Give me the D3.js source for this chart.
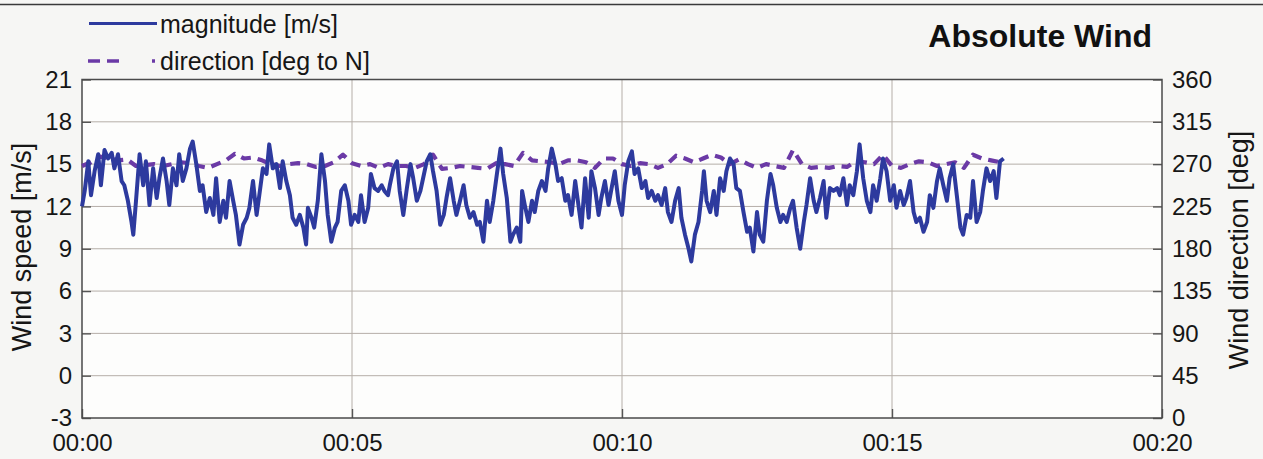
<!DOCTYPE html>
<html>
<head>
<meta charset="utf-8">
<script src="https://cdn.jsdelivr.net/npm/d3@7"></script>
<style>
  html, body { margin: 0; padding: 0; background: #f6f6f4; }
  svg { display: block; font-family: "Liberation Sans", Arial, sans-serif; }
</style>
</head>
<body>
<svg id="chart" width="1263" height="459"></svg>
<script>
// ---- data (time in seconds, speed in m/s, direction in deg) ----
const magnitude = [
[0,12.0],[3,13.1],[7,15.2],[10,12.8],[14,14.5],[18,15.7],[21,13.5],[25,16.0],[29,15.4],[33,15.8],
[36,14.7],[40,15.7],[44,13.8],[47,13.5],[51,12.4],[55,10.9],[57,10.0],[60,12.4],[64,15.7],[68,13.5],
[71,15.2],[75,12.1],[79,14.7],[83,12.6],[86,14.0],[90,15.4],[94,13.8],[97,12.1],[101,14.7],[105,13.5],
[108,15.7],[112,13.8],[116,14.7],[120,16.1],[123,16.6],[127,15.0],[131,13.1],[134,13.5],[138,11.6],[142,12.6],
[146,11.4],[149,14.0],[153,10.9],[157,12.4],[160,11.2],[164,13.8],[168,12.4],[171,11.4],[175,9.3],[179,10.7],
[183,11.2],[186,11.9],[190,13.8],[194,11.4],[197,12.8],[201,14.7],[205,14.3],[208,16.4],[212,14.7],[216,15.0],
[220,13.3],[223,15.2],[227,13.8],[231,12.8],[234,11.2],[238,10.7],[242,11.4],[246,10.5],[249,9.3],[251,11.9],
[255,11.2],[258,10.5],[262,12.4],[266,15.7],[270,13.8],[273,11.4],[277,9.5],[281,10.5],[284,10.9],[288,13.1],
[292,13.5],[296,12.4],[299,10.7],[303,11.4],[307,10.9],[310,12.8],[314,10.9],[318,11.9],[321,14.3],[325,13.3],
[329,13.1],[333,13.5],[336,13.1],[340,12.8],
[342,13.5],[346,14.7],[350,15.2],[353,13.1],[357,11.4],[361,13.3],[365,15.0],[368,14.0],[372,12.4],[376,13.1],
[379,14.0],[383,15.2],[387,15.7],[390,14.5],[394,13.1],[398,10.7],[402,11.4],[405,12.6],[409,14.0],[413,12.4],
[416,11.4],[420,12.4],[424,13.5],[427,12.1],[431,11.2],[435,11.6],[439,10.7],[442,10.9],[446,9.5],[450,12.4],
[453,10.9],[457,12.4],[461,14.3],[465,16.1],[468,14.3],[472,12.6],[476,9.5],[479,10.0],[483,10.5],[487,9.5],
[489,13.1],[492,12.1],[496,10.9],[500,12.4],[503,11.6],[507,13.1],[511,13.8],[515,13.1],[518,14.7],[522,16.1],
[526,15.0],[529,13.8],[533,14.0],[537,12.4],[540,12.8],[544,11.4],[548,13.8],[552,11.9],[555,10.5],[559,14.0],
[563,11.2],[566,14.5],[570,13.3],[574,11.4],[577,12.6],[581,13.8],[585,12.1],[589,13.5],[592,14.5],[596,12.4],
[600,11.4],[603,13.5],[607,15.2],[611,15.9],[614,14.3],[618,14.7],[622,13.3],[626,13.8],[629,12.6],[633,13.1],
[637,12.4],[640,12.8],[644,12.1],[648,13.3],[651,11.6],[655,10.9],[659,12.4],[663,13.3],[666,11.2],[670,10.0],
[674,9.0],[677,8.1],
[681,10.0],[685,10.9],[689,13.1],[691,14.5],[694,12.4],[698,11.6],[702,13.1],[705,11.4],[709,14.0],[713,13.1],
[716,14.5],[720,15.4],[724,15.0],[727,13.3],[731,13.1],[735,11.6],[739,10.2],[742,10.5],[746,8.8],[750,11.6],
[753,10.0],[757,9.5],[761,12.4],[765,14.3],[768,13.5],[772,11.9],[776,10.9],[779,11.4],[783,10.9],[787,11.9],
[790,12.4],[794,10.5],[798,9.0],[802,10.9],[805,12.1],[809,14.0],[813,12.4],[816,11.6],[820,12.6],[824,13.8],
[827,11.2],[831,13.3],[835,13.1],[839,13.3],[842,12.8],[846,14.0],[850,12.1],[853,13.5],[857,12.8],[861,14.5],
[864,16.4],[868,14.0],[872,12.4],[876,11.6],[879,13.5],[883,12.4],[887,14.0],[890,15.4],[894,14.5],[898,12.4],
[902,13.5],[905,11.9],[909,13.1],[913,12.1],[916,12.6],[920,13.8],[924,11.6],[927,10.9],[931,11.2],[935,10.2],
[939,10.9],[942,12.8],[946,11.9],[950,13.8],[953,14.7],[957,13.5],[961,12.4],[964,14.0],[968,15.0],[972,12.8],
[976,10.5],[979,10.0],[983,11.4],[987,11.2],[990,13.8],[994,10.9],[998,11.6],[1001,13.1],[1005,14.7],[1009,13.8],
[1013,14.5],[1016,12.6],[1020,15.2],[1024,15.4]
];

const direction = [
[0,268],[10,272],[20,278],[30,276],[40,274],[50,275],[60,268],[70,269],[80,270],[90,268],
[100,270],[110,272],[120,271],[130,268],[140,266],[150,270],[160,274],[170,281],[180,276],[190,277],
[200,274],[210,270],[220,268],[230,270],[240,271],[250,270],[260,267],[270,268],[280,272],[290,280],
[300,271],[310,268],[320,270],[330,266],[340,270],[350,268],[360,268],[370,266],[380,270],[390,280],
[400,265],[410,266],[420,268],[430,267],[440,266],[450,265],[460,271],[470,270],[480,268],[490,282],
[500,274],[510,273],[520,272],[530,270],[540,274],[550,274],[560,272],[570,266],[580,276],[590,276],
[600,270],[610,268],[620,271],[630,270],[640,266],[650,270],[660,279],[670,276],[680,272],[690,276],
[700,280],[710,277],[720,270],[730,275],[740,270],[750,266],[760,270],[770,268],[780,266],[790,285],
[800,270],[810,266],[820,267],[830,266],[840,268],[850,267],[860,273],[870,272],[880,270],[890,280],
[900,268],[910,266],[920,270],[930,273],[940,272],[950,268],[960,270],[970,272],[980,266],[990,280],
[1000,276],[1010,274],[1020,272]
];

const speedTicks = [-3, 0, 3, 6, 9, 12, 15, 18, 21];
const dirTicks = [0, 45, 90, 135, 180, 225, 270, 315, 360];
const timeTicks = [0, 300, 600, 900, 1200];
const timeLabels = ["00:00", "00:05", "00:10", "00:15", "00:20"];
const legendLabels = ["magnitude [m/s]", "direction [deg to N]"];
const titleText = "Absolute Wind";
const leftTitle = "Wind speed [m/s]";
const rightTitle = "Wind direction [deg]";

// ---- layout ----
const svg = d3.select("#chart");
const L = 82, R = 1162, T = 79.5, B = 418;
const colMag = "#2d3a9e", colDir = "#6b3aa6";

const x = d3.scaleLinear().domain([0, 1200]).range([L, R]);
const yL = d3.scaleLinear().domain([-3, 21]).range([B, T]);
const yR = d3.scaleLinear().domain([0, 360]).range([B, T]);

// top frame line
svg.append("line").attr("x1", 0).attr("x2", 1263).attr("y1", 4.5).attr("y2", 4.5)
  .attr("stroke", "#3a3a3a").attr("stroke-width", 1.6);

// plot background
svg.append("rect").attr("x", L).attr("y", T).attr("width", R - L).attr("height", B - T)
  .attr("fill", "#fdfdfc");

// grid
const grid = svg.append("g").attr("stroke", "#b5aea8").attr("stroke-width", 1);
grid.selectAll(".gy").data(speedTicks.slice(1, -1)).join("line")
  .attr("x1", L).attr("x2", R).attr("y1", d => yL(d)).attr("y2", d => yL(d));
grid.selectAll(".gx").data(timeTicks.slice(1, -1)).join("line")
  .attr("y1", T).attr("y2", B).attr("x1", d => x(d)).attr("x2", d => x(d));

// axes
const fontTick = 24;
const axL = svg.append("g").attr("transform", `translate(${L},0)`)
  .call(d3.axisLeft(yL).tickValues(speedTicks).tickFormat(d => String(d))
    .tickSizeInner(-9).tickSizeOuter(0).tickPadding(10));
const axR = svg.append("g").attr("transform", `translate(${R},0)`)
  .call(d3.axisRight(yR).tickValues(dirTicks).tickFormat(d => String(d))
    .tickSizeInner(-9).tickSizeOuter(0).tickPadding(10));
const axB = svg.append("g").attr("transform", `translate(0,${B})`)
  .call(d3.axisBottom(x).tickValues(timeTicks).tickFormat((d, i) => timeLabels[i])
    .tickSizeInner(-9).tickSizeOuter(0).tickPadding(15));
[axL, axR, axB].forEach(a => {
  a.select(".domain").remove();
  a.selectAll(".tick line").attr("stroke", "#555").attr("stroke-width", 1.4);
  a.selectAll(".tick text").attr("font-size", fontTick).attr("fill", "#161616")
    .attr("font-family", "'Liberation Sans', Arial, sans-serif");
});
axB.selectAll(".tick text").attr("dy", "0.74em");

// frame
svg.append("rect").attr("x", L).attr("y", T).attr("width", R - L).attr("height", B - T)
  .attr("fill", "none").attr("stroke", "#4a4a4a").attr("stroke-width", 1.5);

// series
const lineDir = d3.line().x(d => x(d[0])).y(d => yR(d[1]));
const lineMag = d3.line().x(d => x(d[0])).y(d => yL(d[1]));
svg.append("path").datum(direction).attr("d", lineDir)
  .attr("fill", "none").attr("stroke", colDir).attr("stroke-width", 4.2)
  .attr("stroke-dasharray", "10,7").attr("stroke-linejoin", "round");
svg.append("path").datum(magnitude).attr("d", lineMag)
  .attr("fill", "none").attr("stroke", colMag).attr("stroke-width", 4)
  .attr("stroke-linejoin", "round");

// legend
const lg = svg.append("g");
lg.append("line").attr("x1", 89).attr("x2", 157).attr("y1", 23.5).attr("y2", 23.5)
  .attr("stroke", colMag).attr("stroke-width", 3);
lg.append("line").attr("x1", 88).attr("x2", 155).attr("y1", 61).attr("y2", 61)
  .attr("stroke", colDir).attr("stroke-width", 3.6).attr("stroke-dasharray", "12,7,12,33,3");
lg.selectAll("text").data(legendLabels).join("text")
  .attr("x", 160).attr("y", (d, i) => i === 0 ? 33 : 70)
  .attr("font-size", 25).attr("fill", "#161616").text(d => d);

// title
svg.append("text").attr("x", 1152).attr("y", 47).attr("text-anchor", "end")
  .attr("font-size", 32).attr("font-weight", "bold").attr("fill", "#111").text(titleText);

// axis titles
svg.append("text").attr("transform", "translate(31,247) rotate(-90)")
  .attr("text-anchor", "middle").attr("font-size", 27).attr("fill", "#161616").text(leftTitle);
svg.append("text").attr("transform", "translate(1248,250) rotate(-90)")
  .attr("text-anchor", "middle").attr("font-size", 27).attr("fill", "#161616").text(rightTitle);
</script>
</body>
</html>
